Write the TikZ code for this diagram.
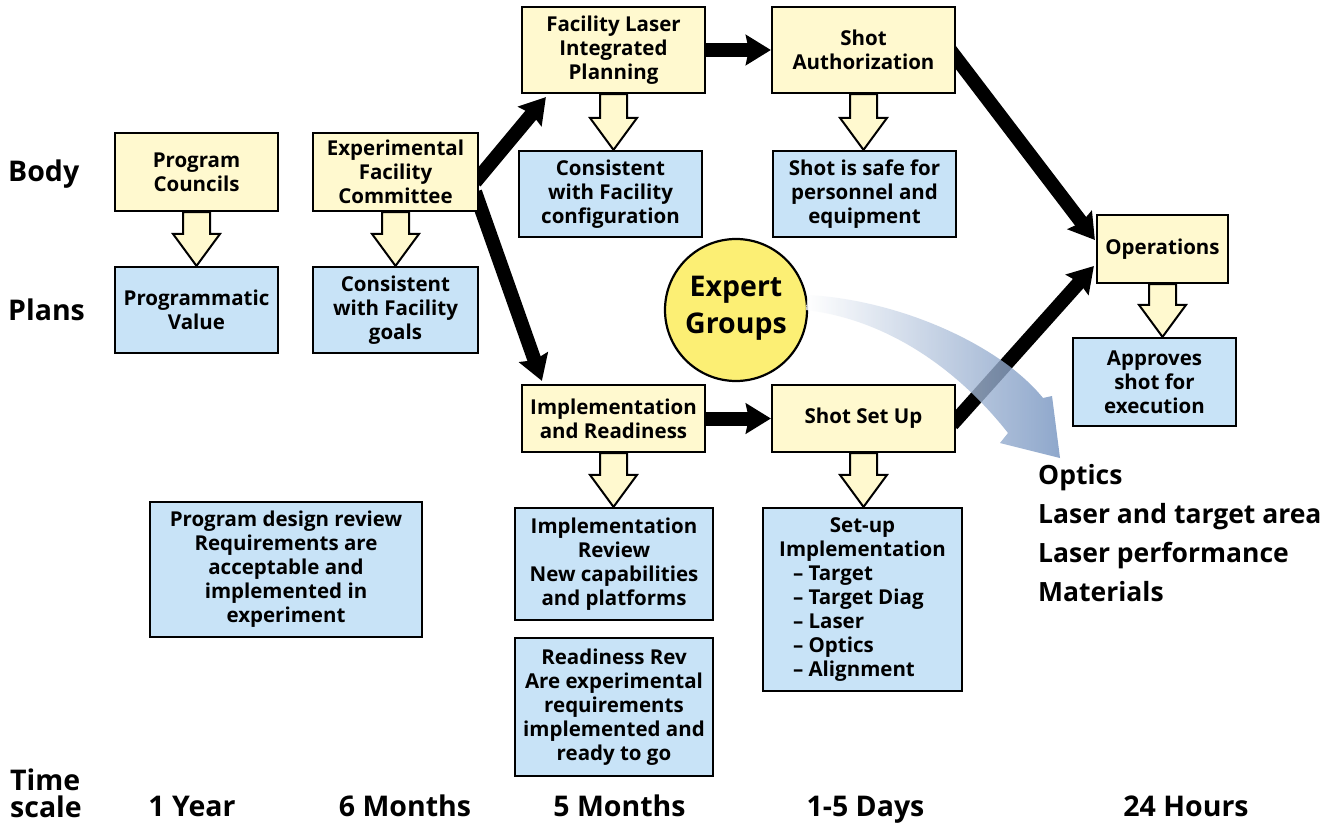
\documentclass[tikz,border=0pt]{standalone}
\usepackage{fontspec}
\setmainfont{Open Sans}
\usetikzlibrary{arrows.meta,calc,backgrounds}

\definecolor{cream}{HTML}{FFF9CF}
\definecolor{paleblue}{HTML}{C8E3F7}
\definecolor{sun}{HTML}{FCEF74}
\definecolor{steel}{HTML}{7392BF}

\newcommand\bxfont{\fontsize{20.5}{24}\selectfont\bfseries}
\newcommand\lblfont{\fontsize{28.5}{34}\selectfont\bfseries}
\newcommand\listfont{\fontsize{26.5}{39}\selectfont\bfseries}

% hollow block arrow from the bottom of one box to the top of another
\newcommand\hollowdown[2]{%
  \draw[hollowarrow] let \p1=(#1.south), \p2=(#2.north) in
    (\x1-13.5pt,\y1) -- (\x1-13.5pt,\y2+32pt) -- (\x1-23.5pt,\y2+32pt) --
    (\x1,\y2) -- (\x1+23.5pt,\y2+32pt) -- (\x1+13.5pt,\y2+32pt) --
    (\x1+13.5pt,\y1) -- cycle;}

\begin{document}
\begin{tikzpicture}[x=1pt,y=-1pt,
  bodybox/.style={draw=black, line width=2.2pt, fill=cream, align=center,
    inner sep=0pt, font=\bxfont},
  planbox/.style={draw=black, line width=2.2pt, fill=paleblue, align=center,
    inner sep=0pt, font=\bxfont},
  hollowarrow/.style={draw=black, line width=2pt, fill=cream, line join=miter},
  flow/.style={draw=black, line width=14pt,
    -{Stealth[length=25pt,width=30pt,inset=3pt]}},
  lbl/.style={font=\lblfont, inner sep=0pt},
  area/.style={font=\listfont, inner sep=0pt, anchor=base west}]

\useasboundingbox (0,0) rectangle (1329,824);

% row labels
\node[lbl, anchor=west] (body) at (8,174) {Body};
\node[lbl, anchor=west] (plans) at (8,310) {Plans};
\node[lbl, anchor=base west] (time) at (10,790) {Time};
\node[lbl, anchor=base west] (scale) at (10,817) {scale};

% time scale
\node[lbl, anchor=base] (t1) at (192,816) {1 Year};
\node[lbl, anchor=base] (t2) at (405,816) {6 Months};
\node[lbl, anchor=base] (t3) at (619.5,816) {5 Months};
\node[lbl, anchor=base] (t4) at (865.5,816) {1-5 Days};
\node[lbl, anchor=base] (t5) at (1186,816) {24 Hours};

% bodies
\node[bodybox, minimum width=163, minimum height=78] (pc) at (196.5,172) {Program\\Councils};
\node[bodybox, minimum width=165, minimum height=78] (efc) at (395.5,172) {Experimental\\Facility\\Committee};
\node[bodybox, minimum width=183, minimum height=86] (flip) at (613.5,50) {Facility Laser\\Integrated\\Planning};
\node[bodybox, minimum width=183, minimum height=86] (sa) at (863.5,50) {Shot\\Authorization};
\node[bodybox, minimum width=131, minimum height=68] (ops) at (1162.5,249) {Operations};
\node[bodybox, minimum width=183, minimum height=67] (ir) at (613.5,418.5) {Implementation\\and Readiness};
\node[bodybox, minimum width=183, minimum height=67] (ssu) at (863.5,418.5) {Shot Set Up};

% plans
\node[planbox, minimum width=163, minimum height=86] (pv) at (196.5,310) {Programmatic\\Value};
\node[planbox, minimum width=165, minimum height=86] (cfg) at (395.5,310) {Consistent\\with Facility\\goals};
\node[planbox, minimum width=183, minimum height=86] (cfc) at (610.5,194) {Consistent\\with Facility\\configuration};
\node[planbox, minimum width=183, minimum height=86] (safe) at (864.5,194) {Shot is safe for\\personnel and\\equipment};
\node[planbox, minimum width=163, minimum height=88] (app) at (1154.5,382) {Approves\\shot for\\execution};
\node[planbox, minimum width=198, minimum height=112] (irev) at (614,564) {Implementation\\Review\\New capabilities\\and platforms};
\node[planbox, minimum width=198, minimum height=138] (rr) at (614,707) {Readiness Rev\\Are experimental\\requirements\\implemented and\\ready to go};
\node[planbox, minimum width=199, minimum height=183] (sui) at (862.5,599.5) {Set-up\\Implementation\\
  \makebox[139pt][l]{-- Target}\\\makebox[139pt][l]{-- Target Diag}\\
  \makebox[139pt][l]{-- Laser}\\\makebox[139pt][l]{-- Optics}\\
  \makebox[139pt][l]{-- Alignment}};
\node[planbox, minimum width=272, minimum height=135] (pdr) at (286,569.5) {Program design review\\Requirements are\\acceptable and\\implemented in\\experiment};

% expert groups: fixed disc with its two-line caption
\node[circle, draw=black, line width=2.2pt, fill=sun, minimum size=142, inner sep=0pt,
  label={[name=egtext, align=center, inner sep=0pt, yshift=2pt,
    font={\fontsize{28.5}{37}\selectfont\bfseries}]center:{Expert\\Groups}}]
  (eg) at (736,310) {};

% block arrows from each body to its plan
\hollowdown{pc}{pv}
\hollowdown{efc}{cfg}
\hollowdown{flip}{cfc}
\hollowdown{sa}{safe}
\hollowdown{ops}{app}
\hollowdown{ir}{irev}
\hollowdown{ssu}{sui}

% white page and process flow, behind the boxes
\begin{pgfonlayer}{background}
  \fill[white] (0,0) rectangle (1329,824);
  \draw[flow] ($(efc.east)+(-4,10)$) -- ($(flip.south west)+(25,3)$);
  \draw[flow] ($(efc.east)+(-4,20)$) -- ($(ir.north west)+(21,-3)$);
  \draw[flow] (flip.east) -- (sa.west);
  \draw[flow] (ir.east) -- (ssu.west);
  \draw[flow] ($(sa.east)+(-6,0)$) -- ($(ops.west)+(-1,-9)$);
  \draw[flow] ($(ssu.east)+(-4,6)$) -- ($(ops.west)+(-2,17)$);
\end{pgfonlayer}

% expertise band
\path[left color=white, right color=steel, fill opacity=0.8]
  (808,295) .. controls (900,300) and (1000,345) .. (1043,398)
  -- (1052,396) -- (1060,458) -- (1000,443) -- (1008,433)
  .. controls (960,372) and (890,320) .. (806,310) -- cycle;

% expert areas
\node[area] (a1) at (1038,484) {Optics};
\node[area] (a2) at (1038,523) {Laser and target area};
\node[area] (a3) at (1038,562) {Laser performance};
\node[area] (a4) at (1038,601) {Materials};
\end{tikzpicture}
\end{document}
